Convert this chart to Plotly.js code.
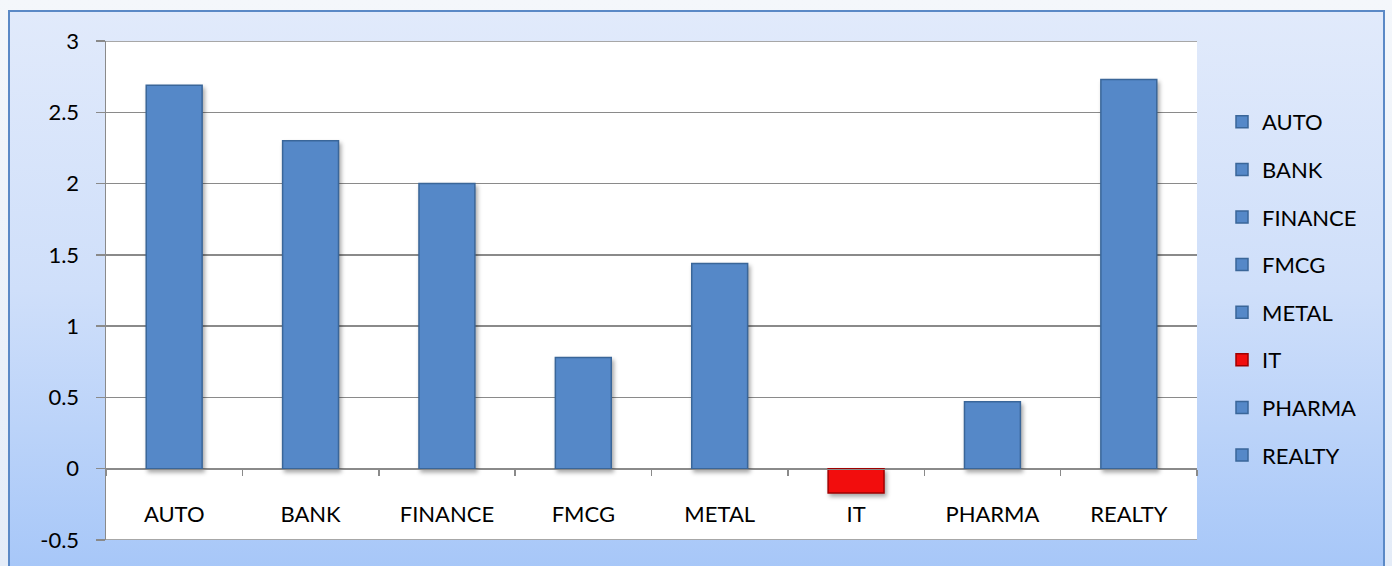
<!DOCTYPE html>
<html>
<head>
<meta charset="utf-8">
<script src="https://cdn.plot.ly/plotly-3.0.1.min.js"></script>
<style>
  html, body { margin:0; padding:0; }
  body { width:1392px; height:566px; overflow:hidden; position:relative;
         background: linear-gradient(#f4f7fb, #e4ecf8); }
  #frame { position:absolute; left:8px; top:10px; width:1377px; height:560px;
           border:2px solid #5b89c6; box-sizing:border-box;
           background: linear-gradient(to bottom, #e1eafb 0%, #cfdffa 50%, #a7c7f8 100%); }
  #chart { position:absolute; left:0; top:0; width:1392px; height:566px; }
  .barlayer .point path { filter: drop-shadow(2px 3px 2px rgba(0,0,0,0.35)); }
</style>
</head>
<body>
<div id="frame"></div>
<div id="chart"></div>
<script>
const categories = ["AUTO", "BANK", "FINANCE", "FMCG", "METAL", "IT", "PHARMA", "REALTY"];
const values = [2.69, 2.30, 2.00, 0.78, 1.44, -0.17, 0.47, 2.73];
const barColors = ["#5588c8", "#5588c8", "#5588c8", "#5588c8", "#5588c8", "#f20d0d", "#5588c8", "#5588c8"];
const edgeColors = ["#3a6699", "#3a6699", "#3a6699", "#3a6699", "#3a6699", "#a00000", "#3a6699", "#3a6699"];
const yTickVals = [-0.5, 0, 0.5, 1, 1.5, 2, 2.5, 3];
const yTickText = ["-0.5", "0", "0.5", "1", "1.5", "2", "2.5", "3"];
const yMin = -0.5, yMax = 3;

const traces = categories.map((c, i) => ({
  type: "bar",
  x: [c],
  y: [values[i]],
  name: c,
  legendgroup: c,
  width: 0.41,
  marker: { color: barColors[i], line: { color: edgeColors[i], width: 1.5 } },
  hoverinfo: "skip"
}));

const layout = {
  width: 1392, height: 566,
  margin: { l: 106, r: 195, t: 41, b: 26 },
  paper_bgcolor: "rgba(0,0,0,0)",
  plot_bgcolor: "#ffffff",
  barmode: "overlay",
  font: { family: "Lato, 'Open Sans', sans-serif", size: 22, color: "#000000" },
  showlegend: true,
  legend: {
    xref: "container", yref: "container",
    x: 1222 / 1392, y: 1 - 101 / 566,
    xanchor: "left", yanchor: "top",
    bgcolor: "rgba(0,0,0,0)",
    font: { size: 22, color: "#000000" },
    tracegroupgap: 16,
    traceorder: "grouped",
    maxheight: 560
  },
  xaxis: {
    type: "category",
    categoryorder: "array", categoryarray: categories,
    anchor: "free", position: (0 - yMin) / (yMax - yMin),
    showline: true, linecolor: "#8a8a8a", linewidth: 1.5,
    ticks: "outside", tickson: "boundaries", ticklen: 6, tickcolor: "#8a8a8a", tickwidth: 1.5,
    ticklabelstandoff: 25,
    showgrid: false, zeroline: false,
    tickfont: { size: 22 }
  },
  yaxis: {
    range: [yMin, yMax],
    tickvals: yTickVals, ticktext: yTickText,
    showline: true, linecolor: "#8a8a8a", linewidth: 1.5,
    ticks: "outside", ticklen: 9, tickcolor: "#8a8a8a", tickwidth: 1.5,
    ticklabelstandoff: 12,
    showgrid: true, gridcolor: "#8a8a8a", gridwidth: 1.5,
    zeroline: true, zerolinecolor: "#8a8a8a", zerolinewidth: 1.5,
    tickfont: { size: 22 }
  },
  shapes: [yMax, yMin].map(v => ({
    type: "line", xref: "paper", yref: "y", x0: 0, x1: 1, y0: v, y1: v,
    line: { color: "#8a8a8a", width: 1.5 }, layer: "below"
  }))
};

Plotly.newPlot("chart", traces, layout, { displayModeBar: false, staticPlot: true });
</script>
</body>
</html>
